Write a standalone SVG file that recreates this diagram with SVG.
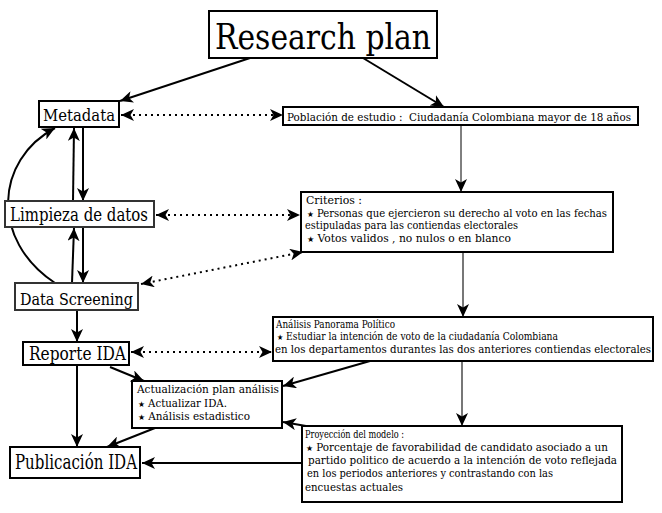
<svg xmlns="http://www.w3.org/2000/svg" width="662" height="513" viewBox="0 0 662 513">
<style>
text{font-family:'DejaVu Serif','Liberation Serif',serif;fill:#000}
.box{fill:#fff;stroke:#000;stroke-width:2}
.gbox{fill:#fff;stroke:#333;stroke-width:2}
.c{fill:none;stroke:#000;stroke-width:2}
.thin{fill:none;stroke:#000;stroke-width:1}
.gray{fill:none;stroke:#777;stroke-width:2}
.dot{fill:none;stroke:#000;stroke-width:2;stroke-dasharray:2 4}
.s{font-size:8px}
.m{font-size:10.5px}
</style>
<defs>
<marker id="ah" markerUnits="userSpaceOnUse" markerWidth="14" markerHeight="12" refX="13" refY="6" orient="auto-start-reverse" viewBox="0 0 14 12">
<path d="M0,0 L13,6 L0,12 L3.5,6 z" fill="#000"/>
</marker>
</defs>
<g id="connectors">
<path class="c" d="M250,58 L120,101" marker-end="url(#ah)"/>
<path class="c" d="M363,58 L444,107" marker-end="url(#ah)"/>
<path class="dot" d="M121,115 L283,115" marker-start="url(#ah)" marker-end="url(#ah)"/>
<path class="thin" d="M461,125 L461,192" marker-end="url(#ah)"/>
<path class="c" d="M83,127 L83,201" marker-end="url(#ah)"/>
<path class="c" d="M73,201 L74,128" marker-end="url(#ah)"/>
<path class="dot" d="M156,215 L300,215" marker-start="url(#ah)" marker-end="url(#ah)"/>
<path class="c" d="M83,227 L83,283" marker-end="url(#ah)"/>
<path class="c" d="M72,283 L74,228" marker-end="url(#ah)"/>
<path class="c" d="M55,283 C-10,240 -5,160 55,128" marker-end="url(#ah)"/>
<path class="dot" d="M141,284 L303,252" marker-start="url(#ah)" marker-end="url(#ah)"/>
<path class="gray" d="M463,252 L463,317" marker-end="url(#ah)"/>
<path class="c" d="M77,310 L77,342" marker-end="url(#ah)"/>
<path class="dot" d="M131,352 L272,352" marker-start="url(#ah)" marker-end="url(#ah)"/>
<path class="c" d="M77,365 L77,447" marker-end="url(#ah)"/>
<path class="c" d="M110,367 L144,381" marker-end="url(#ah)"/>
<path class="c" d="M370,361 L283,386" marker-end="url(#ah)"/>
<path class="gray" d="M462,361 L462,426" marker-end="url(#ah)"/>
<path class="c" d="M306,426 L283,422" marker-end="url(#ah)"/>
<path class="c" d="M155,428 L107,447" marker-end="url(#ah)"/>
<path class="c" d="M302,463 L142,463" marker-end="url(#ah)"/>
</g>
<g id="research">
<rect class="box" x="209" y="11" width="228" height="47"/>
<text x="215" y="49" font-size="36" textLength="216" lengthAdjust="spacingAndGlyphs">Research plan</text>
</g>
<g id="metadata">
<rect class="box" x="39" y="101" width="80" height="26"/>
<text x="43" y="121" font-size="16" textLength="72" lengthAdjust="spacingAndGlyphs">Metadata</text>
</g>
<g id="poblacion">
<rect class="box" x="283" y="107" width="355" height="18"/>
<text x="287" y="120.5" class="m" textLength="344" lengthAdjust="spacingAndGlyphs" xml:space="preserve">Población de estudio :  Ciudadanía Colombiana mayor de 18 años</text>
</g>
<g id="limpieza">
<rect class="gbox" x="5" y="201" width="149" height="26"/>
<text x="10" y="221" font-size="18" textLength="138" lengthAdjust="spacingAndGlyphs">Limpieza de datos</text>
</g>
<g id="criterios">
<rect class="box" x="301" y="192" width="312" height="60"/>
<text x="306" y="204" class="m" textLength="56" lengthAdjust="spacingAndGlyphs">Criterios :</text>
<text x="307" y="216.5" class="m" textLength="300" lengthAdjust="spacingAndGlyphs"><tspan class="s">★</tspan>  Personas que ejercieron su derecho al voto en las fechas</text>
<text x="305" y="229" class="m" textLength="213" lengthAdjust="spacingAndGlyphs">estipuladas para las contiendas electorales</text>
<text x="307" y="241.5" class="m" textLength="204" lengthAdjust="spacingAndGlyphs"><tspan class="s">★</tspan>  Votos validos , no nulos o en blanco</text>
</g>
<g id="screening">
<rect class="gbox" x="15" y="283" width="123" height="27"/>
<text x="20" y="305" font-size="17" textLength="113" lengthAdjust="spacingAndGlyphs">Data Screening</text>
</g>
<g id="reporte">
<rect class="box" x="23" y="342" width="106" height="23"/>
<text x="29" y="360" font-size="18" textLength="97" lengthAdjust="spacingAndGlyphs">Reporte IDA</text>
</g>
<g id="analisis">
<rect class="box" x="273" y="317" width="380" height="44"/>
<text x="276" y="327.5" class="m" textLength="119" lengthAdjust="spacingAndGlyphs">Análisis Panorama Político</text>
<text x="277" y="340" class="m" textLength="281" lengthAdjust="spacingAndGlyphs"><tspan class="s">★</tspan>  Estudiar la intención de voto de la ciudadanía Colombiana</text>
<text x="275" y="353" class="m" textLength="376" lengthAdjust="spacingAndGlyphs">en los departamentos durantes las dos anteriores contiendas electorales</text>
</g>
<g id="actualizacion">
<rect class="box" x="132" y="381" width="150" height="47"/>
<text x="137" y="393" class="m" textLength="142" lengthAdjust="spacingAndGlyphs">Actualización plan análisis</text>
<text x="138" y="407" class="m" textLength="89" lengthAdjust="spacingAndGlyphs"><tspan class="s">★</tspan>  Actualizar IDA.</text>
<text x="138" y="420" class="m" textLength="112" lengthAdjust="spacingAndGlyphs"><tspan class="s">★</tspan>  Análisis estadistico</text>
</g>
<g id="proyeccion">
<rect class="box" x="302" y="426" width="320" height="76"/>
<text x="305" y="438" class="m" textLength="99" lengthAdjust="spacingAndGlyphs">Proyección del modelo :</text>
<text x="306" y="451" class="m" textLength="302" lengthAdjust="spacingAndGlyphs"><tspan class="s">★</tspan>  Porcentaje de favorabilidad de candidato asociado a un</text>
<text x="308" y="464" class="m" textLength="309" lengthAdjust="spacingAndGlyphs">partido politico de acuerdo a la intención de voto reflejada</text>
<text x="307" y="477" class="m" textLength="246" lengthAdjust="spacingAndGlyphs">en los periodos anteriores y contrastando con las</text>
<text x="305" y="491" class="m" textLength="98" lengthAdjust="spacingAndGlyphs">encuestas actuales</text>
</g>
<g id="publicacion">
<rect class="box" x="10" y="447" width="130" height="31"/>
<text x="15" y="469" font-size="20" textLength="122" lengthAdjust="spacingAndGlyphs">Publicación IDA</text>
</g>
</svg>
